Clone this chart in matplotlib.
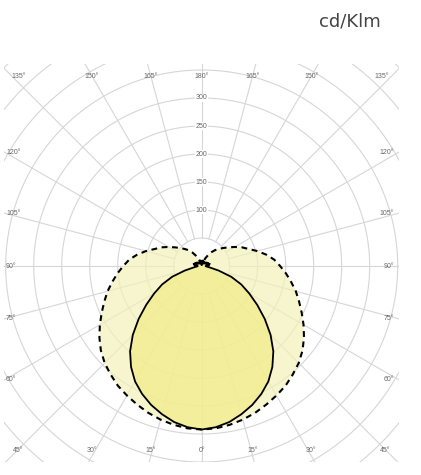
import numpy as np
import matplotlib
matplotlib.use("Agg")
import matplotlib.pyplot as plt
from matplotlib.patches import Rectangle

# gamma angles (deg from nadir) and intensities in cd/klm
angles = [0, 5, 10, 15, 20, 25, 30, 35, 40, 45, 50, 55, 60, 65, 70, 75, 80, 85, 90,
          95, 100, 105, 110, 115, 120, 125, 130, 135, 140, 145, 150, 155, 160, 165,
          170, 175, 180]
c0_c180 = [292, 289, 283, 274, 264, 252, 238, 220, 199, 174, 147, 121, 98, 78, 56,
           31, 14, 8, 7, 13, 12, 15, 10, 13, 8, 11, 7, 9, 6, 8, 5, 7, 9, 6, 10, 7, 8]
c90_c270 = [292, 291, 288, 284, 279, 273, 267, 261, 253, 245, 235, 223, 210, 197, 185,
            174, 162, 151, 140, 130, 117, 103, 89, 79, 68, 58, 50, 43, 37, 30, 22, 15,
            9, 5, 3, 2, 2]

ring_labels = [100, 150, 200, 250, 300]
top_labels = [135, 150, 165, 180, 165, 150, 135]
side_labels = [120, 105, 90, 75, 60]
bottom_labels = [45, 30, 15, 0, 15, 30, 45]

W, H = 421, 475
fig = plt.figure(figsize=(W / 100, H / 100), dpi=100)

# centre of the diagram in pixels (from top-left) and scale
cx, cy = 201.7, 266.0
px_per_unit = 0.56
rmax = 520
R = rmax * px_per_unit
ax = fig.add_axes([(cx - R) / W, (H - cy - R) / H, 2 * R / W, 2 * R / H],
                  projection='polar')
ax.set_theta_zero_location('S')
ax.set_ylim(0, rmax)
ax.axis('off')

clip = Rectangle((4 / W, 13 / H), 395 / W, 398 / H, transform=fig.transFigure)

grid_kw = dict(color='#d6d6d6', lw=0.8, zorder=2.5)
t = np.linspace(0, 2 * np.pi, 721)
for r in range(50, 551, 50):
    ax.plot(t, np.full_like(t, r), **grid_kw)
for a in range(0, 360, 15):
    ax.plot([np.radians(a)] * 2, [50, rmax + 200], **grid_kw)

def mirrored(vals):
    th = np.radians(np.concatenate([-np.array(angles[::-1]), angles[1:]]))
    rr = np.concatenate([vals[::-1], vals[1:]])
    return th, rr

th90, r90 = mirrored(c90_c270)
th0, r0 = mirrored(c0_c180)
ax.fill(th90, r90, color='#f4f1b8', alpha=0.7, lw=0, zorder=3)
ax.fill(th0, r0, color='#f1ec86', alpha=0.7, lw=0, zorder=3.1)
ax.plot(th90, r90, color='black', lw=1.5, dashes=(2.8, 2.2), zorder=4)
ax.plot(th0, r0, color='black', lw=1.3, zorder=4.1)

for art in ax.lines + ax.patches:
    art.set_clip_path(clip)

lab_kw = dict(fontsize=5, color='#666666', family='Liberation Sans')
for v in ring_labels:
    ax.text(np.pi, v, str(v), ha='center', va='center', zorder=5,
            bbox=dict(fc='white', ec='none', pad=0.5), **lab_kw)

def ftext(x, y, s, ha='center'):
    fig.text(x / W, 1 - y / H, s, ha=ha, va='center', **lab_kw)

# top row
for i, a in enumerate(top_labels):
    side = -1 if i < 3 else 1
    if a == 135:
        x = 19 if side < 0 else 382
    else:
        x = cx + side * 190 * np.tan(np.radians(180 - a))
    ftext(x, 77, f'{a}°')
# bottom row
for i, a in enumerate(bottom_labels):
    side = -1 if i < 3 else 1
    if a == 45:
        x = 18 if side < 0 else 385
    else:
        x = cx + side * 190 * np.tan(np.radians(a))
    ftext(x, 451, f'{a}°')
# side columns
for a in side_labels:
    y = cy + 196.7 / np.tan(np.radians(a))
    ftext(6, y, f'{a}°', ha='left')
    ftext(394, y, f'{a}°', ha='right')

fig.text(319 / W, 1 - 21 / H, 'cd/Klm', ha='left', va='center',
         fontsize=13, color='#444444')

fig.savefig('out.png', dpi=100)
